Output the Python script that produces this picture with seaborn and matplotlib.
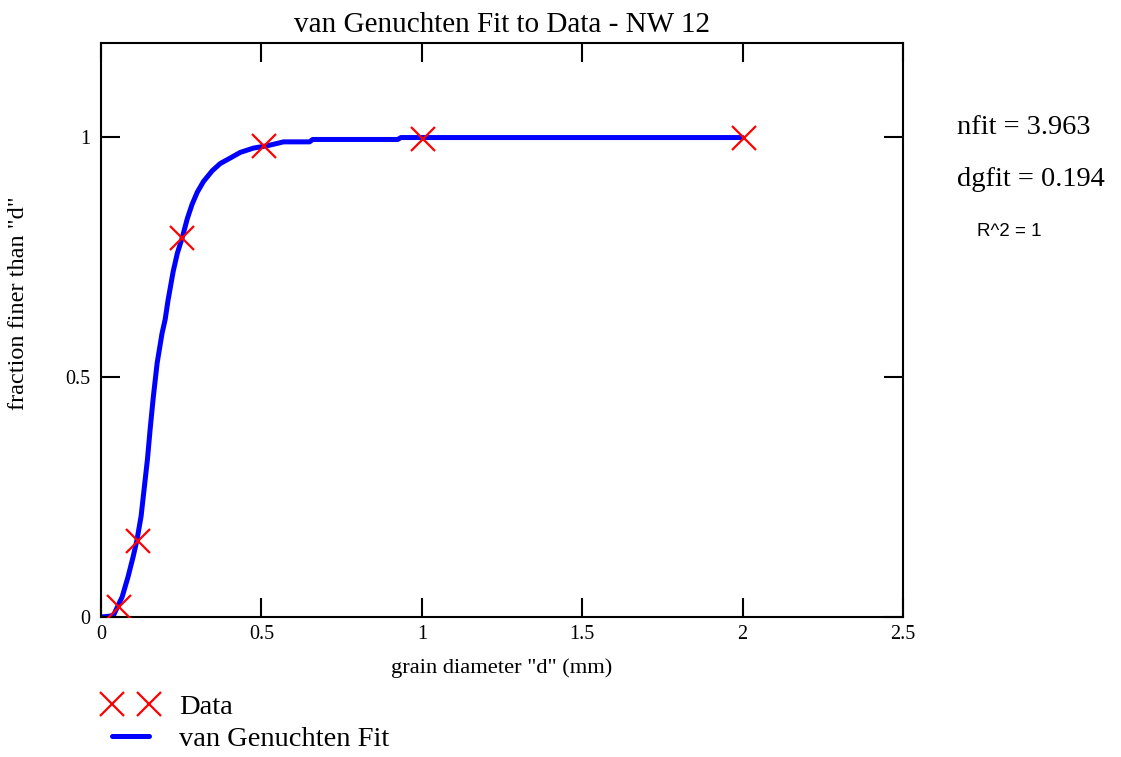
import matplotlib
matplotlib.use("Agg")
import matplotlib.pyplot as plt
import seaborn as sns
import pandas as pd

# Measured data (grain diameter mm, fraction finer)
data_d = [0.056, 0.115, 0.253, 0.507, 1.005, 2.005]
data_f = [0.021, 0.158, 0.790, 0.982, 0.997, 0.999]

# Fitted curve
fit_d = [0.0, 0.03, 0.04, 0.066, 0.084, 0.100, 0.112, 0.125, 0.135, 0.145,
         0.153, 0.163, 0.175, 0.190, 0.200, 0.209, 0.225, 0.238, 0.253, 0.269,
         0.284, 0.300, 0.319, 0.347, 0.372, 0.394, 0.434, 0.475, 0.519, 0.569,
         0.650, 0.660, 0.925, 0.935, 2.0]
fit_f = [0.0, 0.002, 0.005, 0.042, 0.083, 0.125, 0.160, 0.210, 0.270, 0.330,
         0.390, 0.458, 0.529, 0.590, 0.620, 0.660, 0.720, 0.758, 0.790, 0.830,
         0.860, 0.885, 0.907, 0.930, 0.945, 0.953, 0.968, 0.977, 0.982, 0.990,
         0.990, 0.995, 0.995, 0.999, 0.999]

x_ticks = [0, 0.5, 1, 1.5, 2, 2.5]
x_tick_labels = ["0", "0.5", "1", "1.5", "2", "2.5"]
y_ticks = [0, 0.5, 1]
y_tick_labels = ["0", "0.5", "1"]

title = "van Genuchten Fit to Data - NW 12"
xlabel = 'grain diameter "d" (mm)'
ylabel = 'fraction finer than "d"'
stats = ["nfit = 3.963", "dgfit = 0.194"]
r2_text = "R^2 = 1"

sns.set_theme(style="white")
plt.rcParams["font.family"] = ["Liberation Serif", "DejaVu Serif"]
plt.rcParams["text.color"] = "black"
plt.rcParams["axes.labelcolor"] = "black"

fig = plt.figure(figsize=(11.21, 7.57), dpi=100)
ax = fig.add_axes([101 / 1121, 1 - 617 / 757, 802 / 1121, 574 / 757])

df_fit = pd.DataFrame({"d": fit_d, "f": fit_f})
df_data = pd.DataFrame({"d": data_d, "f": data_f})

sns.lineplot(data=df_fit, x="d", y="f", ax=ax, sort=False, color=(0, 0, 1),
             linewidth=3.6, label="van Genuchten Fit", legend=False, zorder=2)
ax.plot(df_data["d"], df_data["f"], linestyle="none", marker="x", markersize=17.5,
        markeredgewidth=1.6, color=(1, 0, 0), label="Data", zorder=3)

ax.set_xlim(0, 2.5)
ax.set_ylim(0, 1.196)
ax.set_xticks(x_ticks)
ax.set_xticklabels(x_tick_labels)
ax.set_yticks(y_ticks)
ax.set_yticklabels(y_tick_labels)
ax.tick_params(axis="both", which="major", direction="in", length=13.5, width=1.5,
               color="black", top=True, right=True, bottom=True, left=True,
               labelsize=14.5, labelcolor="black")
ax.tick_params(axis="x", pad=6)
ax.tick_params(axis="y", pad=8)
for s in ax.spines.values():
    s.set_color("black")
    s.set_linewidth(1.5)
    s.set_visible(True)

ax.set_xlabel(xlabel, fontsize=16.2, color="black", labelpad=10)
ax.set_ylabel(ylabel, fontsize=17.5, color="black")
ax.yaxis.set_label_coords((29 - 101) / 802, (617 - 303) / 574)
ax.set_title(title, fontsize=21, color="black", pad=8)

fig.text(957 / 1121, 1 - 128 / 757, stats[0], fontsize=20.5, va="center", ha="left")
fig.text(957 / 1121, 1 - 180 / 757, stats[1], fontsize=20.5, va="center", ha="left")
fig.text(977 / 1121, 1 - 232 / 757, r2_text, fontsize=13.5, va="center", ha="left",
         family=["Liberation Sans", "DejaVu Sans"])

handles, labels = ax.get_legend_handles_labels()
order = [labels.index("Data"), labels.index("van Genuchten Fit")]
leg = fig.legend([handles[i] for i in order], [labels[i] for i in order],
                 loc="upper left", bbox_to_anchor=(92 / 1121, 1 - 683 / 757),
                 frameon=False, fontsize=20.5, numpoints=2, handlelength=1.9,
                 handletextpad=0.75, labelspacing=0.2, borderaxespad=0)
for t in leg.get_texts():
    t.set_color("black")

fig.savefig("out.png", dpi=100, facecolor="white")
